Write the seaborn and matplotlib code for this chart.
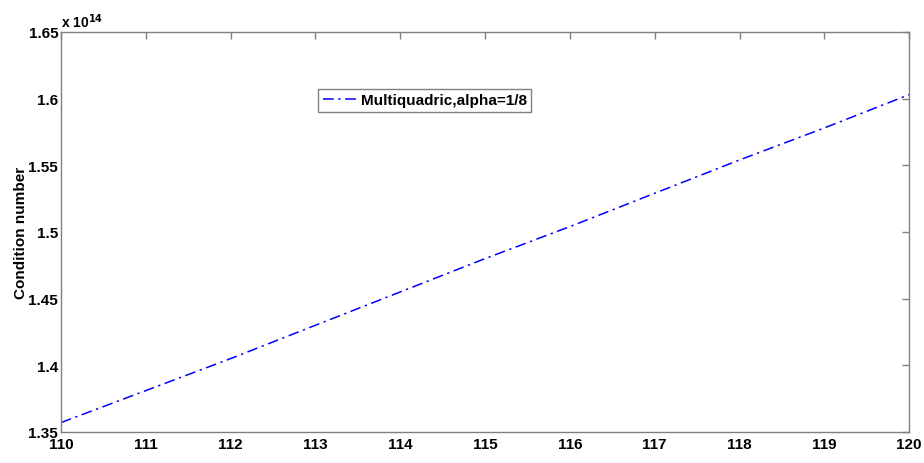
import matplotlib
matplotlib.use("Agg")
import matplotlib.pyplot as plt
import matplotlib.ticker as mticker
import seaborn as sns
import pandas as pd

# data
n_points = [110, 111, 112, 113, 114, 115, 116, 117, 118, 119, 120]
cond_num = [1.357e14, 1.381e14, 1.405e14, 1.430e14, 1.455e14, 1.480e14,
            1.504e14, 1.529e14, 1.554e14, 1.578e14, 1.603e14]
label = "Multiquadric,alpha=1/8"

df = pd.DataFrame({"n": n_points, "cond": cond_num})

sns.set_style("white")
plt.rcParams['font.family'] = ['Liberation Sans', 'DejaVu Sans']
plt.rcParams['font.weight'] = 'bold'
plt.rcParams['text.color'] = 'black'
plt.rcParams['xtick.labelcolor'] = 'black'
plt.rcParams['ytick.labelcolor'] = 'black'
plt.rcParams['axes.labelcolor'] = 'black'

fig = plt.figure(figsize=(9.24, 4.64), dpi=100)
ax = fig.add_axes([0.066, 0.067, 0.918, 0.862])

sns.lineplot(data=df, x="n", y="cond", ax=ax, color="blue",
             linewidth=1.1, label=label)
ax.lines[0].set_dashes((7, 3, 1.5, 3))

ax.set_xlim(110, 120)
ax.set_ylim(1.35e14, 1.65e14)
ax.set_xticks(range(110, 121))
ax.set_yticks([1.35e14 + 0.05e14 * i for i in range(7)])
ax.yaxis.set_major_formatter(mticker.FuncFormatter(lambda v, p: "%g" % round(v / 1e14, 3)))

ax.set_xlabel("")
ax.set_ylabel("Condition number", fontsize=11, fontweight="bold", labelpad=0)

for s in ax.spines.values():
    s.set_color("#808080")
    s.set_linewidth(1.0)
ax.tick_params(direction="in", length=5, width=1, color="#808080",
               top=True, right=True, labelsize=11, pad=2,
               labelcolor="black")
ax.tick_params(axis="x", pad=4)
for t in ax.get_xticklabels() + ax.get_yticklabels():
    t.set_fontweight("bold")

ax.text(0.0, 1.005, "x 10$^{14}$", transform=ax.transAxes, fontsize=10,
        fontweight="bold", ha="left", va="bottom", color="black")

leg = ax.legend(loc="upper left", bbox_to_anchor=(0.303, 0.858), borderaxespad=0,
                fancybox=False, framealpha=1, edgecolor="#808080",
                prop={"weight": "bold", "size": 11}, handlelength=2.2,
                handletextpad=0.3, borderpad=0.3)
leg.get_frame().set_linewidth(1.0)
for t in leg.get_texts():
    t.set_color("black")

fig.savefig("out.png", dpi=100)
